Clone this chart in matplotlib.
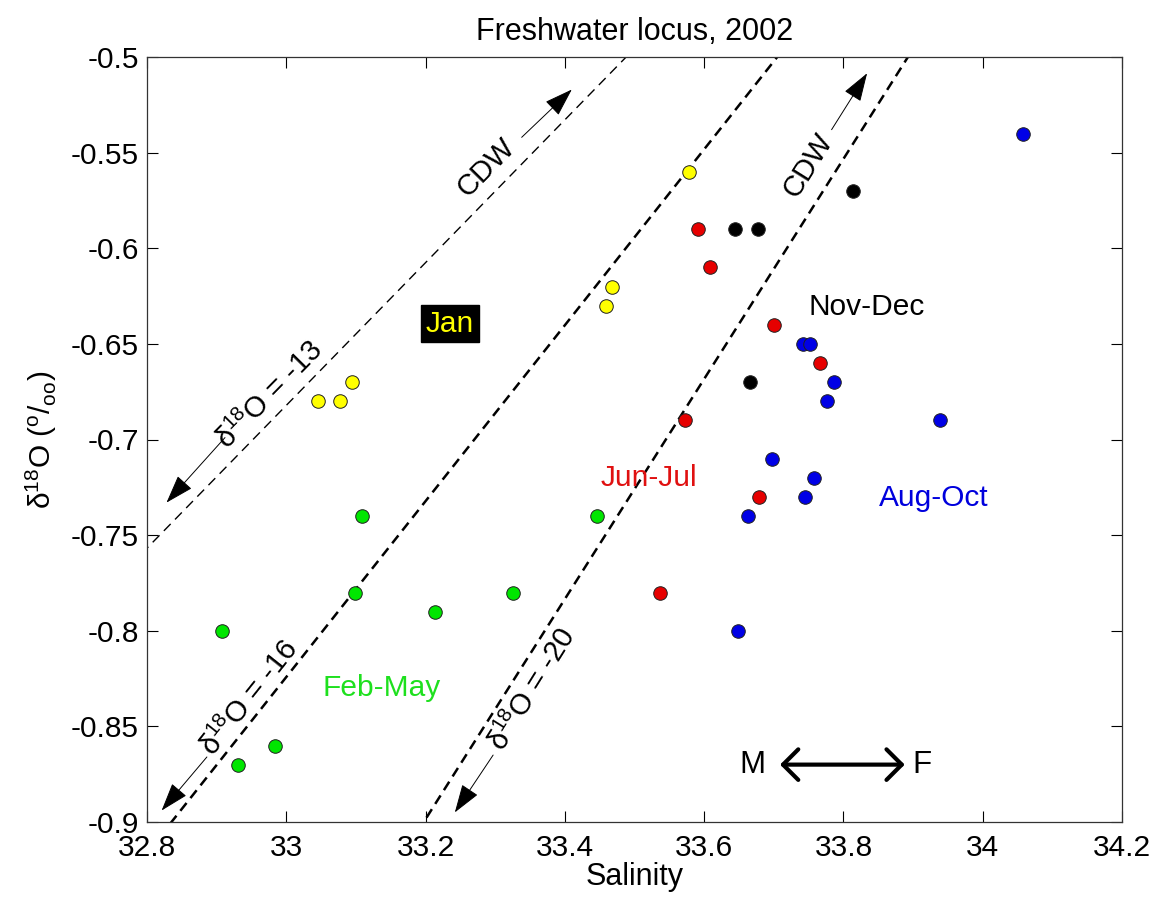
import matplotlib
matplotlib.use("Agg")
import matplotlib.pyplot as plt
import numpy as np

plt.rcParams['font.family'] = ['Liberation Sans', 'DejaVu Sans']
plt.rcParams['mathtext.fontset'] = 'custom'
plt.rcParams['mathtext.rm'] = 'Liberation Sans'

# season groups: salinity, d18O
jan_s = [33.046, 33.077, 33.094, 33.459, 33.467, 33.578]
jan_d = [-0.68, -0.68, -0.67, -0.63, -0.62, -0.56]

febmay_s = [32.908, 32.931, 32.984, 33.099, 33.109, 33.213, 33.325, 33.446]
febmay_d = [-0.80, -0.87, -0.86, -0.78, -0.74, -0.79, -0.78, -0.74]

junjul_s = [33.591, 33.608, 33.701, 33.766, 33.572, 33.679, 33.537]
junjul_d = [-0.59, -0.61, -0.64, -0.66, -0.69, -0.73, -0.78]

augoct_s = [34.058, 33.742, 33.752, 33.786, 33.776, 33.939, 33.697, 33.758, 33.745, 33.663, 33.649]
augoct_d = [-0.54, -0.65, -0.65, -0.67, -0.68, -0.69, -0.71, -0.72, -0.73, -0.74, -0.80]

novdec_s = [33.814, 33.644, 33.677, 33.666]
novdec_d = [-0.57, -0.59, -0.59, -0.67]

# mixing lines: freshwater end members (S=0) to CDW
fw_d18o = [-13, -16, -20]
cdw_s, cdw_d = 34.64, -0.07

x_ticks = [32.8, 33, 33.2, 33.4, 33.6, 33.8, 34, 34.2]
y_ticks = [-0.9, -0.85, -0.8, -0.75, -0.7, -0.65, -0.6, -0.55, -0.5]

FS = 21.5

fig = plt.figure(figsize=(11.57, 8.99), dpi=100)
ax = fig.add_axes([147 / 1157, 77 / 899, 975 / 1157, 765 / 899])

# mixing lines
s_line = np.array([32.6, 34.4])
line_w = [1.0, 1.8, 1.8]
line_dash = [(7, 4.5), (4, 2.5), (4, 2.5)]
for d0, lw, dash in zip(fw_d18o, line_w, line_dash):
    d_line = d0 + (cdw_d - d0) * s_line / cdw_s
    ax.plot(s_line, d_line, color='k', lw=lw, dashes=dash, zorder=1)

groups = [
    (jan_s, jan_d, '#ffff00'),
    (febmay_s, febmay_d, '#00e600'),
    (junjul_s, junjul_d, '#e60000'),
    (augoct_s, augoct_d, '#0000e6'),
    (novdec_s, novdec_d, '#000000'),
]
for s, d, c in groups:
    ax.scatter(s, d, s=95, color=c, edgecolors='#202020', linewidths=0.7, zorder=3)

# season labels
ax.text(33.235, -0.6395, 'Jan', color='#ffff00', fontsize=FS, ha='center', va='center',
        bbox=dict(boxstyle='square,pad=0.15', facecolor='k', edgecolor='k'))
ax.text(33.137, -0.83, 'Feb-May', color='#1ee01e', fontsize=FS, ha='center', va='center')
ax.text(33.52, -0.72, 'Jun-Jul', color='#e01010', fontsize=FS, ha='center', va='center')
ax.text(33.93, -0.7305, 'Aug-Oct', color='#0000dd', fontsize=FS, ha='center', va='center')
ax.text(33.834, -0.6305, 'Nov-Dec', color='k', fontsize=FS, ha='center', va='center')

# line labels
d18 = '\u03b4$^{\\mathregular{18}}$O'
ax.text(32.977, -0.677, d18 + ' = -13', fontsize=FS - 0.5, rotation=45.5,
        ha='center', va='center', rotation_mode='anchor')
ax.text(32.948, -0.835, d18 + ' = -16', fontsize=FS - 0.5, rotation=51.5,
        ha='center', va='center', rotation_mode='anchor')
ax.text(33.354, -0.831, d18 + ' = -20', fontsize=FS - 0.5, rotation=58,
        ha='center', va='center', rotation_mode='anchor')
ax.text(33.287, -0.558, 'CDW', fontsize=FS - 0.5, rotation=45.5,
        ha='center', va='center', rotation_mode='anchor')
ax.text(33.750, -0.5565, 'CDW', fontsize=FS - 0.5, rotation=58,
        ha='center', va='center', rotation_mode='anchor')

thin = dict(arrowstyle='-|>,head_length=0.9,head_width=0.3', color='k', lw=0.7,
            shrinkA=0, shrinkB=0, mutation_scale=20)
arrows = [
    ((33.338, -0.542), (33.41, -0.517)),
    ((33.783, -0.538), (33.834, -0.5085)),
    ((32.912, -0.699), (32.828, -0.733)),
    ((32.886, -0.866), (32.821, -0.894)),
    ((33.297, -0.865), (33.242, -0.895)),
]
for start, end in arrows:
    ax.annotate('', xy=end, xytext=start, arrowprops=thin)

# meteoric / freezing arrow
ax.annotate('', xy=(33.888, -0.87), xytext=(33.709, -0.87),
            arrowprops=dict(arrowstyle='<->,head_length=0.55,head_width=0.55', color='k',
                            lw=3, shrinkA=0, shrinkB=0, mutation_scale=20))
ax.text(33.67, -0.87, 'M', fontsize=FS + 1, ha='center', va='center')
ax.text(33.913, -0.87, 'F', fontsize=FS + 1, ha='center', va='center')

ax.set_xlim(32.8, 34.2)
ax.set_ylim(-0.9, -0.5)
ax.set_xticks(x_ticks)
ax.set_xticklabels(['32.8', '33', '33.2', '33.4', '33.6', '33.8', '34', '34.2'])
ax.set_yticks(y_ticks)
ax.set_yticklabels(['-0.9', '-0.85', '-0.8', '-0.75', '-0.7', '-0.65', '-0.6', '-0.55', '-0.5'])
ax.tick_params(direction='in', length=8, width=0.8, top=True, right=True,
               labelsize=FS, pad=6)
ax.tick_params(axis='x', pad=9)
for sp in ax.spines.values():
    sp.set_linewidth(0.9)
    sp.set_color('#333333')

ax.set_xlabel('Salinity', fontsize=FS + 0.5, labelpad=0)
ax.set_ylabel('\u03b4$^{\\mathregular{18}}$O ($^{\\mathregular{o}}$/$_{\\mathregular{oo}}$)',
              fontsize=FS)
ax.yaxis.set_label_coords(-0.09, 0.5)
ax.set_title('Freshwater locus, 2002', fontsize=FS + 0.5, pad=12)

fig.savefig('out.png', dpi=100)
